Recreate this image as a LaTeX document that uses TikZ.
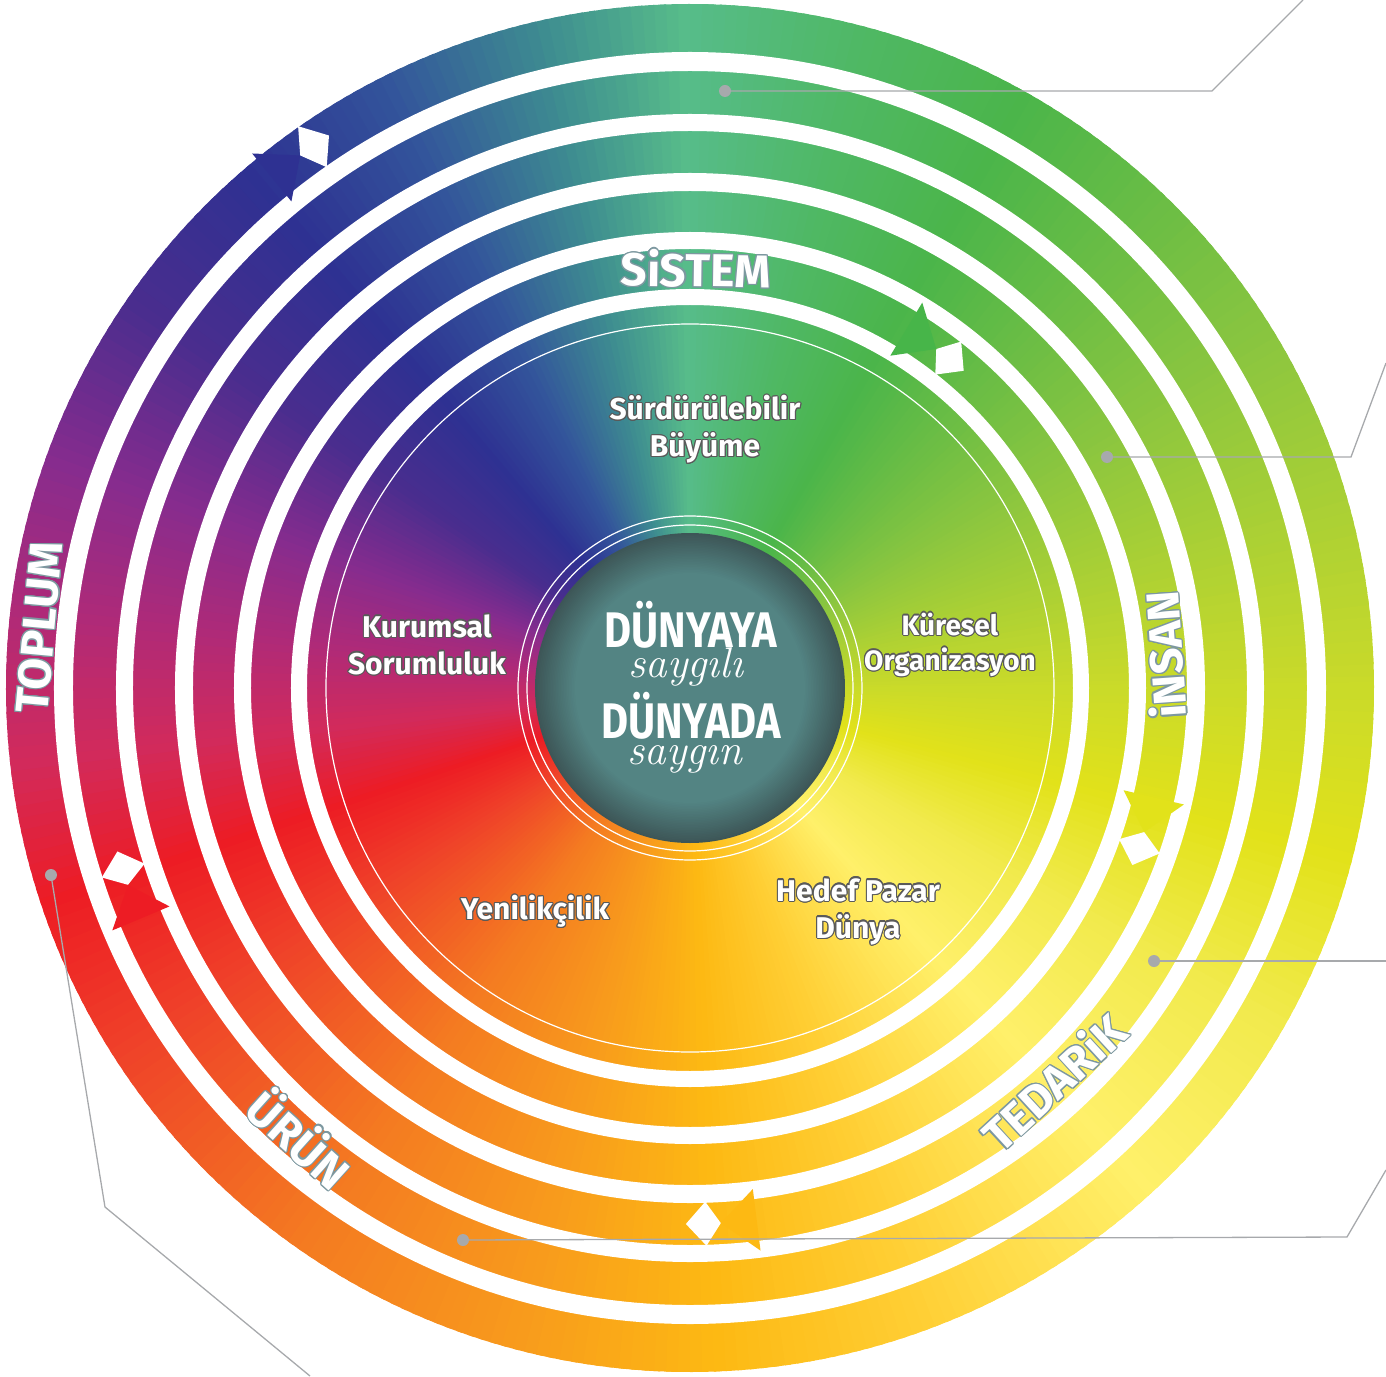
\documentclass[tikz,border=0pt]{standalone}
\usepackage{fontspec}
\usepackage{contour}
\newfontfamily\wheelfont{Fira Sans}
\contourlength{1.1pt}

% colour wheel key colours (angle in degrees)
\definecolor{c0}{HTML}{C9DA2A}
\definecolor{c30}{HTML}{8CC63F}
\definecolor{c60}{HTML}{4BB54A}
\definecolor{c75}{HTML}{4FB865}
\definecolor{c90}{HTML}{57BC8A}
\definecolor{c102}{HTML}{3E8D90}
\definecolor{c116}{HTML}{33559B}
\definecolor{c130}{HTML}{2E3192}
\definecolor{c145}{HTML}{4A2D8E}
\definecolor{c160}{HTML}{872C8E}
\definecolor{c173}{HTML}{AF2A78}
\definecolor{c186}{HTML}{D22A5B}
\definecolor{c198}{HTML}{ED1C24}
\definecolor{c212}{HTML}{EF4129}
\definecolor{c235}{HTML}{F47B21}
\definecolor{c255}{HTML}{F89B1C}
\definecolor{c272}{HTML}{FDB913}
\definecolor{c290}{HTML}{FFCF35}
\definecolor{c312}{HTML}{FFF06A}
\definecolor{c330}{HTML}{F1EA4C}
\definecolor{c345}{HTML}{E2E21A}
\definecolor{arrowgreen}{HTML}{47B549}
\definecolor{discin}{HTML}{538483}
\definecolor{discout}{HTML}{3D5657}
\definecolor{callout}{HTML}{A7A9AC}
\definecolor{ringline}{HTML}{7D98A0}
\definecolor{textline}{HTML}{5A5A5A}

% arrow on a ring: mid radius, half width, tip angle, colour
\newcommand{\ringarrow}[4]{%
  \pgfmathsetmacro{\dA}{36/#1*57.2958}
  \pgfmathsetmacro{\dB}{15/#1*57.2958}
  \pgfmathsetmacro{\dC}{35/#1*57.2958}
  \fill[white] (#3:#1) -- ({#3-\dB}:{#1+#2+1}) -- ({#3-\dC}:#1) -- ({#3-\dB}:{#1-#2-1}) -- cycle;
  \fill[#4] (#3:#1) -- ({#3+\dA}:{#1+31}) -- ({#3+\dA}:{#1-31}) -- cycle;
}

\begin{document}
\begin{tikzpicture}[x=1pt,y=1pt,
  ringlabel/.style={font=\wheelfont\bfseries\fontsize{46}{46}\selectfont, text=white, inner sep=0pt},
  sectorlabel/.style={font=\wheelfont\bfseries\fontsize{30}{37}\selectfont, text=white, align=center, inner sep=0pt},
  hairline/.style={white, line width=1.2pt},
  leader/.style={callout, line width=1.3pt},
  dotmark/.style={fill=callout}]
\useasboundingbox (-690,-688) rectangle (696,688);

% colour wheel
\foreach \a/\b/\ca/\cb in {0/30/c0/c30, 30/60/c30/c60, 60/75/c60/c75, 75/90/c75/c90,
  90/102/c90/c102, 102/116/c102/c116, 116/130/c116/c130, 130/145/c130/c145,
  145/160/c145/c160, 160/173/c160/c173, 173/186/c173/c186, 186/198/c186/c198,
  198/212/c198/c212, 212/235/c212/c235, 235/255/c235/c255, 255/272/c255/c272,
  272/290/c272/c290, 290/312/c290/c312, 312/330/c312/c330, 330/345/c330/c345,
  345/360/c345/c0}{
  \pgfmathtruncatemacro{\n}{\b-\a-1}
  \foreach \i in {0,...,\n}{
    \pgfmathtruncatemacro{\p}{100-100*\i/(\b-\a)}
    \colorlet{wedge}{\ca!\p!\cb}
    \fill[wedge] (0,0) -- (\a+\i:684) arc[start angle=\a+\i, end angle=\a+\i+1.5, radius=684pt] -- cycle;
  }
}

% white gaps between the rings
\foreach \r/\w in {626.5pt/19pt, 565.5pt/17pt, 506pt/18pt, 447.5pt/17pt, 391pt/16pt}
  \draw[white, line width=\w] (0,0) circle[radius=\r];
\draw[hairline] (0,0) circle[radius=364pt];
\draw[hairline] (0,0) circle[radius=172pt];
\draw[hairline] (0,0) circle[radius=163pt];

% arrows
\ringarrow{660}{24}{126.2}{c130}
\ringarrow{595.5}{21.5}{199.3}{c198}
\ringarrow{536}{21}{273.3}{c272}
\ringarrow{476.5}{20.5}{342.4}{c345}
\ringarrow{419}{20}{54}{arrowgreen}

% ring labels
\node[ringlabel, rotate=84.7] (toplum) at (174.7:653) {\contour{ringline}{TOPLUM}};
\node[ringlabel, rotate=-42] (urun) at (229.1:595) {\contour{ringline}{ÜRÜN}};
\node[ringlabel, rotate=42.7] (tedarik) at (-47.3:536) {\contour{ringline}{TEDARiK}};
\node[ringlabel, rotate=94] (insan) at (4:476) {\contour{ringline}{iNSAN}};
\node[ringlabel, rotate=-0.8] (sistem) at (89.2:419) {\contour{ringline}{SiSTEM}};

% sector labels
\node[sectorlabel] (growth) at (15,258) {\contour{textline}{Sürdürülebilir}\\\contour{textline}{Büyüme}};
\node[sectorlabel, font=\wheelfont\bfseries\fontsize{28}{35}\selectfont] (global) at (260,43) {\contour{textline}{Küresel}\\\contour{textline}{Organizasyon}};
\node[sectorlabel] (market) at (168,-224) {\contour{textline}{Hedef Pazar}\\\contour{textline}{Dünya}};
\node[sectorlabel] (innov) at (-155,-224) {\contour{textline}{Yenilikçilik}};
\node[sectorlabel] (social) at (-263,43) {\contour{textline}{Kurumsal}\\\contour{textline}{Sorumluluk}};

% centre disc
\foreach \i in {0,...,24}{
  \pgfmathtruncatemacro{\p}{4*\i}
  \pgfmathsetmacro{\rr}{155-\i*1.6}
  \colorlet{rim}{discin!\p!discout}
  \fill[rim] (0,0) circle[radius=\rr pt];
}
\fill[discin] (0,0) circle[radius=115pt];

\node[font=\wheelfont\bfseries\fontsize{50}{50}\selectfont, text=white, xscale=0.83, anchor=base] (world1) at (1,41) {DÜNYAYA};
\node[font=\itshape\fontsize{43}{43}\selectfont, text=white, anchor=base] (respect1) at (-4,11) {saygılı};
\node[font=\wheelfont\bfseries\fontsize{50}{50}\selectfont, text=white, xscale=0.83, anchor=base] (world2) at (1,-50) {DÜNYADA};
\node[font=\itshape\fontsize{43}{43}\selectfont, text=white, anchor=base] (respect2) at (-5,-76) {saygın};

% callouts
\coordinate (dot1) at (35,597);
\coordinate (bend1) at (522,597);
\coordinate (end1) at (613,688);
\coordinate (dot2) at (417,231);
\coordinate (bend2) at (661,231);
\coordinate (end2) at (696,325);
\coordinate (dot3) at (464,-273);
\coordinate (end3) at (696,-273);
\coordinate (dot4) at (-227,-552);
\coordinate (bend4) at (657,-549);
\coordinate (end4) at (696,-482);
\coordinate (dot5) at (-639,-187);
\coordinate (bend5) at (-585,-519);
\coordinate (end5) at (-380,-688);

\draw[leader] (dot1) -- (bend1) -- (end1);
\draw[leader] (dot2) -- (bend2) -- (end2);
\draw[leader] (dot3) -- (end3);
\draw[leader] (dot4) -- (bend4) -- (end4);
\draw[leader] (dot5) -- (bend5) -- (end5);
\foreach \d in {dot1,dot2,dot3,dot4,dot5}
  \fill[dotmark] (\d) circle[radius=6pt];
\end{tikzpicture}
\end{document}
